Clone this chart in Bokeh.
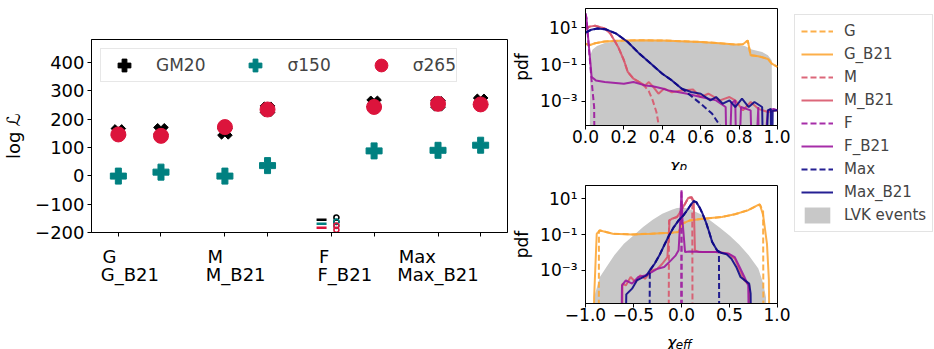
import numpy as np
from bokeh.plotting import figure
from bokeh.layouts import row, column
from bokeh.models import (ColumnDataSource, FixedTicker, CustomJSTickFormatter,
                          Legend, LegendItem, Range1d)
from bokeh.core.properties import value
from bokeh.embed import file_html
from bokeh.resources import INLINE

FONT = "DejaVu Sans"
TEAL = "#008080"
CRIMSON = "#dc143c"
ORANGE = "#fca636"
PINK = "#d8576b"
PURPLE = "#9c179e"
NAVY = "#0d0887"
GRAY = "#c8c8c8"
DASH = "6 3"

# ---------------- left panel: log-likelihoods ----------------
models = ["G", "G_B21", "M", "M_B21", "F", "F_B21", "Max", "Max_B21"]
model_pos = [0, 1, 2.5, 3.5, 5, 6, 7.5, 8.5]
logL_GM20 = [155, 159, 155, 235, -155, 256, 254, 263]
logL_s150 = [-1, 13, -1, 36, -169, 88, 90, 108]
logL_s265 = [146, 141, 172, 234, -183, 243, 254, 252]
y_ticks_left = [-200, -100, 0, 100, 200, 300, 400]
infinite_model = "F"   # drawn as -inf marks

# ---------------- chi_p panel (log10 pdf; -9 = off-scale bottom) ----------------
chip_G_x = [0.0, 0.02, 0.05, 0.1, 0.2, 0.3, 0.4, 0.5, 0.6, 0.7, 0.78, 0.82, 0.845, 0.86, 0.9, 0.95, 0.97, 1.0]
chip_G_lg = [0.13, 0.04, 0.15, 0.25, 0.3, 0.31, 0.3, 0.26, 0.22, 0.15, 0.08, 0.1, 0.3, -0.5, -0.55, -0.7, -0.95, -1.13]
chip_GB_x = [0.0, 0.02, 0.05, 0.1, 0.2, 0.3, 0.4, 0.5, 0.6, 0.7, 0.78, 0.82, 0.845, 0.86, 0.9, 0.95, 0.97, 1.0]
chip_GB_lg = [0.13, 0.04, 0.15, 0.25, 0.3, 0.31, 0.3, 0.26, 0.22, 0.15, 0.08, 0.1, 0.3, -0.5, -0.55, -0.7, -0.95, -1.13]
chip_M_x = [0.0, 0.02, 0.05, 0.1, 0.13, 0.17, 0.2, 0.22, 0.25, 0.28, 0.31, 0.33, 0.35, 0.37, 0.38, 0.385]
chip_M_lg = [0.9, 1.05, 1.1, 0.95, 0.67, -0.05, -0.77, -1.4, -1.77, -1.95, -2.2, -2.45, -2.94, -3.6, -4.2, -9]
chip_MB_x = [0.0, 0.02, 0.05, 0.1, 0.13, 0.17, 0.2, 0.22, 0.25, 0.28, 0.31, 0.33, 0.36, 0.38, 0.41, 0.45,
             0.5, 0.56, 0.6, 0.64, 0.7, 0.75, 0.78, 0.82, 0.86, 0.9, 0.95, 1.0]
chip_MB_lg = [0.9, 1.05, 1.1, 0.95, 0.67, -0.05, -0.77, -1.4, -1.77, -1.95, -2.13, -1.95, -2.3, -2.58, -2.3, -2.5,
              -2.4, -2.35, -2.76, -2.58, -2.94, -2.76, -2.94, -3.48, -3.03, -3.4, -3.57, -3.48]
chip_F_x = [0.0, 0.005, 0.03, 0.045, 0.05]
chip_F_lg = [1.76, 1.5, -1.68, -3.3, -9]
chip_FB_x = [0.0, 0.005, 0.032, 0.054, 0.1, 0.2, 0.25, 0.31, 0.35, 0.4, 0.43, 0.48, 0.53, 0.6, 0.68, 0.73,
             0.74, 0.76, 0.78, 0.79, 0.81, 0.86, 0.875, 0.9, 0.905, 0.95, 0.98, 1.0]
chip_FB_lg = [1.76, 1.5, -1.68, -1.86, -1.95, -2.04, -1.95, -2.13, -2.18, -2.3, -2.4, -2.49, -2.58, -2.76, -2.94, -3.3,
              -9, -3.1, -2.94, -9, -3.3, -3.48, -9, -3.3, -9, -3.48, -3.4, -3.48]
chip_X_x = [0.0, 0.03, 0.062, 0.11, 0.16, 0.22, 0.28, 0.35, 0.4, 0.45, 0.5, 0.52, 0.6, 0.66, 0.7, 0.72]
chip_X_lg = [0.73, 0.88, 0.95, 0.89, 0.67, 0.22, -0.41, -1.04, -1.5, -1.86, -2.3, -2.45, -3.12, -3.67, -4.3, -9]
chip_XB_x = [0.0, 0.03, 0.062, 0.11, 0.16, 0.22, 0.28, 0.35, 0.4, 0.45, 0.5, 0.55, 0.6, 0.65, 0.68, 0.715,
             0.75, 0.78, 0.815, 0.85, 0.88, 0.92, 0.93, 0.95, 0.965, 0.97, 0.975, 1.0]
chip_XB_lg = [0.73, 0.88, 0.95, 0.89, 0.67, 0.22, -0.41, -1.04, -1.5, -1.86, -2.3, -2.49, -2.58, -2.94, -2.76, -3.12,
              -2.94, -3.3, -2.85, -3.3, -3.03, -3.3, -9, -3.48, -3.4, -9, -3.5, -3.48]
chip_LVK_x = [0.02, 0.025, 0.037, 0.06, 0.1, 0.16, 0.28, 0.45, 0.61, 0.7, 0.78, 0.83, 0.866, 0.92, 0.95, 0.97, 0.975]
chip_LVK_lg = [-9, -0.5, -0.19, 0.0, 0.17, 0.26, 0.31, 0.29, 0.24, 0.17, 0.08, 0.0, -0.19, -0.32, -0.5, -0.77, -9]

# ---------------- chi_eff panel ----------------
chie_G_x = [-0.862, -0.86, -0.85, -0.816, -0.716, -0.515, -0.314, -0.114, -0.03, -0.013, 0.003, 0.087, 0.22,
            0.42, 0.555, 0.69, 0.79, 0.816, 0.85, 0.855]
chie_G_lg = [-9, -0.8, -0.77, -0.82, -0.95, -0.99, -0.95, -0.9, -0.86, -0.67, -0.4, -0.21, -0.12,
             -0.02, 0.13, 0.35, 0.63, 0.68, 0.3, -9]
chie_GB_x = [-0.92, -0.91, -0.883, -0.85, -0.816, -0.716, -0.515, -0.314, -0.114, -0.03, -0.013, 0.003, 0.087,
             0.22, 0.42, 0.555, 0.69, 0.79, 0.816, 0.85, 0.89, 0.91, 0.92]
chie_GB_lg = [-9, -4.5, -0.95, -0.77, -0.82, -0.95, -0.99, -0.95, -0.9, -0.86, -0.67, -0.4, -0.21,
              -0.12, -0.02, 0.13, 0.35, 0.63, 0.68, 0.1, -1.5, -3.5, -9]
chie_M_x = [-0.135, -0.13, -0.1, -0.047, -0.013, 0.037, 0.07, 0.104, 0.112, 0.116]
chie_M_lg = [-9, -0.21, -0.12, -0.02, 0.26, 0.72, 1.04, 1.09, 0.95, -9]
chie_MB_x = [-0.62, -0.615, -0.58, -0.53, -0.48, -0.43, -0.38, -0.31, -0.25, -0.2, -0.147, -0.124, -0.1, -0.047,
             -0.013, 0.037, 0.07, 0.104, 0.127, 0.14, 0.187, 0.29, 0.39, 0.49, 0.555, 0.605, 0.655, 0.706, 0.72]
chie_MB_lg = [-9, -3.74, -3.84, -3.37, -3.65, -3.28, -3.47, -3.0, -2.9, -2.63, -2.26, -0.21, -0.12, -0.02,
              0.26, 0.72, 1.04, 1.09, 0.9, -1.88, -1.98, -1.98, -1.98, -2.07, -2.35, -3.0, -3.56, -3.84, -9]
chie_F_x = [-0.006, 0.0, 0.006]
chie_F_lg = [-9, 1.47, -9]
chie_FB_x = [-0.63, -0.62, -0.58, -0.515, -0.45, -0.38, -0.31, -0.25, -0.18, -0.11, -0.06, -0.03, -0.013, 0.0,
             0.01, 0.037, 0.087, 0.22, 0.355, 0.49, 0.555, 0.605, 0.655, 0.695, 0.71]
chie_FB_lg = [-9, -3.84, -3.56, -3.74, -3.37, -3.28, -3.1, -2.91, -2.81, -2.44, -2.16, -1.88, -0.21, 1.47,
              -0.21, -1.98, -1.94, -1.98, -1.98, -2.07, -2.26, -2.81, -3.37, -3.84, -9]
chie_X_x = [-0.335, -0.33, -0.28, -0.23, -0.18, -0.13, -0.08, -0.03, 0.02, 0.07, 0.104, 0.127, 0.154, 0.187,
            0.22, 0.254, 0.288, 0.32, 0.37, 0.39, 0.395]
chie_X_lg = [-9, -3.0, -2.63, -2.16, -1.6, -1.05, -0.58, -0.21, 0.07, 0.44, 0.72, 0.87, 0.81, 0.53,
             0.16, -0.3, -0.86, -1.42, -1.88, -1.95, -9]
chie_XB_x = [-0.59, -0.575, -0.515, -0.465, -0.415, -0.364, -0.33, -0.28, -0.23, -0.18, -0.13, -0.08, -0.03,
             0.02, 0.07, 0.104, 0.127, 0.154, 0.187, 0.22, 0.254, 0.288, 0.32, 0.37, 0.42, 0.47, 0.52, 0.57,
             0.615, 0.66, 0.705, 0.72, 0.73]
chie_XB_lg = [-9, -4.34, -4.02, -3.56, -3.42, -3.28, -3.0, -2.63, -2.16, -1.6, -1.05, -0.58, -0.21,
              0.07, 0.44, 0.72, 0.87, 0.81, 0.53, 0.16, -0.3, -0.86, -1.42, -1.88, -2.03, -2.1, -2.35, -2.81,
              -3.37, -3.56, -3.74, -4.3, -9]
chie_LVK_x = [-0.95, -0.9, -0.85, -0.78, -0.7, -0.6, -0.5, -0.4, -0.3, -0.2, -0.1, -0.047, 0.0, 0.05, 0.1,
              0.2, 0.3, 0.4, 0.5, 0.6, 0.7, 0.8, 0.85, 0.88, 0.9]
chie_LVK_lg = [-9, -4.3, -3.37, -2.8, -2.16, -1.51, -1.05, -0.58, -0.17, 0.16, 0.39, 0.48, 0.5, 0.48, 0.39,
               0.13, -0.21, -0.62, -1.05, -1.55, -2.16, -2.9, -3.7, -4.5, -9]

legend_names = ["G", "G_B21", "M", "M_B21", "F", "F_B21", "Max", "Max_B21"]
legend_colors = [ORANGE, ORANGE, PINK, PINK, PURPLE, PURPLE, NAVY, NAVY]
legend_dashed = [True, False, True, False, True, False, True, False]


def pdf(lg):
    return [10.0 ** v for v in lg]


def style(p, size):
    for ax in p.axis:
        ax.major_label_text_font = FONT
        ax.major_label_text_font_size = size
        ax.major_label_text_color = "black"
        ax.axis_label_text_font = FONT
        ax.axis_label_text_font_style = "normal"
        ax.axis_label_text_color = "black"
        ax.axis_line_color = "black"
        ax.major_tick_line_color = "black"
        ax.major_tick_out = 4
        ax.major_tick_in = 0
        ax.minor_tick_line_color = None
    p.grid.grid_line_color = None
    p.outline_line_color = "black"
    p.outline_line_alpha = 1.0
    p.background_fill_color = "white"
    p.border_fill_color = "white"


def strip(width, height, x_range, left, right):
    s = figure(width=width, height=height, x_range=x_range, y_range=Range1d(0, height),
               x_axis_type=None, y_axis_type=None, output_backend="svg", toolbar_location=None,
               min_border_left=left, min_border_right=right, min_border_top=0, min_border_bottom=0)
    s.outline_line_color = None
    s.grid.grid_line_color = None
    s.background_fill_color = "white"
    s.border_fill_color = "white"
    return s


minus_fmt = CustomJSTickFormatter(code="return String(tick).replace('-', '\\u2212');")

# ======== left figure ========
pL = figure(width=509, height=244, x_range=Range1d(-0.63, 9.13), y_range=Range1d(-200, 481),
            output_backend="svg", toolbar_location=None,
            min_border_left=87, min_border_right=2, min_border_top=39, min_border_bottom=12)
style(pL, "18px")
pL.yaxis.ticker = FixedTicker(ticks=y_ticks_left, minor_ticks=[])
pL.yaxis.formatter = minus_fmt
pL.yaxis.major_label_standoff = 3
pL.yaxis.axis_label = "log \u2112"
pL.yaxis.axis_label_text_font_size = "18px"
pL.yaxis.axis_label_standoff = 8
# category ticks on the axis; their names are written in the strip below
pL.xaxis.ticker = FixedTicker(ticks=model_pos, minor_ticks=[])
pL.xaxis.formatter = CustomJSTickFormatter(code="return '';")
pL.xaxis.major_label_text_font_size = "0px"
pL.xaxis.major_label_standoff = 0

keep = [i for i, m in enumerate(models) if m != infinite_model]
src = ColumnDataSource(dict(
    x=[model_pos[i] for i in keep],
    gm=[logL_GM20[i] for i in keep],
    s150=[logL_s150[i] for i in keep],
    s265=[logL_s265[i] for i in keep],
))
r_gm = pL.scatter("x", "gm", source=src, marker="plus", angle=45, angle_units="deg", size=15,
                  fill_color="black", line_color="black")
r_150 = pL.scatter("x", "s150", source=src, marker="plus", size=16, fill_color=TEAL, line_color=TEAL)
r_265 = pL.scatter("x", "s265", source=src, marker="circle", size=15, fill_color=CRIMSON, line_color=CRIMSON)

# off-scale (-inf) values of F: a short dash and a small double loop per series
fi = models.index(infinite_model)
unit_px = 420 / (9.13 + 0.63)        # pixels per x unit
ypx = 193 / (481 + 200)              # pixels per y unit
inf_vals = [logL_GM20[fi], logL_s150[fi], logL_s265[fi]]
inf_cols = ["black", TEAL, CRIMSON]
pL.scatter(x=[model_pos[fi] - 10 / unit_px] * 3, y=inf_vals, marker="dash", size=10,
           line_color=inf_cols, line_width=2.5)
loop_x = [model_pos[fi] + 5 / unit_px] * 6
loop_y = [v + d / ypx for v in inf_vals for d in (2.2, -2.2)]
loop_c = [c for c in inf_cols for _ in (0, 1)]
pL.scatter(x=loop_x, y=loop_y, marker="circle", size=5, fill_color=None,
           line_color=loop_c, line_width=1.6)

legL = Legend(items=[LegendItem(label="GM20", renderers=[r_gm]),
                     LegendItem(label="\u03c3150", renderers=[r_150]),
                     LegendItem(label="\u03c3265", renderers=[r_265])],
              orientation="horizontal", location="top_left", margin=9, padding=0,
              glyph_width=46, glyph_height=32, label_standoff=9, spacing=27,
              label_text_font=FONT, label_text_font_size="17px",
              border_line_color="#d0d0d0", background_fill_alpha=0.8)
pL.add_layout(legL)

# strip under the left panel: category names, in two staggered rows
sL = strip(509, 105, pL.x_range, 87, 2)
first = [m for m in models if not m.endswith("_B21")]
second = [m for m in models if m.endswith("_B21")]
sL.text(x=[model_pos[models.index(m)] for m in first], y=[104] * len(first), text=first,
        x_offset=-2, text_align="right", text_baseline="top",
        text_font=value(FONT), text_font_size="18px", text_color="black")
sL.text(x=[model_pos[models.index(m)] for m in second], y=[86] * len(second), text=second,
        x_offset=-2, text_align="right", text_baseline="top",
        text_font=value(FONT), text_font_size="18px", text_color="black")

# ======== right panels ========
log_fmt = CustomJSTickFormatter(code="""
const e = Math.round(Math.log10(tick));
const sup = {'-': '\\u207b', '0': '\\u2070', '1': '\\u00b9', '2': '\\u00b2', '3': '\\u00b3',
             '4': '\\u2074', '5': '\\u2075', '6': '\\u2076', '7': '\\u2077', '8': '\\u2078', '9': '\\u2079'};
return '10' + String(e).split('').map(c => sup[c]).join('');
""")


def panel(height, top, frame_h, xr, yr, xticks, fmt_code):
    p = figure(width=281, height=height, x_range=Range1d(*xr), y_range=Range1d(*yr), y_axis_type="log",
               output_backend="svg", toolbar_location=None,
               min_border_left=69, min_border_right=13, min_border_top=top,
               min_border_bottom=height - top - frame_h)
    style(p, "17px")
    p.yaxis.ticker = FixedTicker(ticks=[1e-3, 1e-1, 1e1], minor_ticks=[])
    p.yaxis.formatter = log_fmt
    p.yaxis.major_label_standoff = 4
    p.yaxis.axis_label = "pdf"
    p.yaxis.axis_label_text_font_size = "17px"
    p.yaxis.axis_label_standoff = 5
    p.xaxis.ticker = FixedTicker(ticks=xticks, minor_ticks=[])
    p.xaxis.formatter = CustomJSTickFormatter(code=fmt_code)
    p.xaxis.major_label_standoff = 0
    return p


pT = panel(149, 8, 117, (0, 1), (10 ** -4.3, 10 ** 2.03), [0, 0.2, 0.4, 0.6, 0.8, 1.0],
           "return tick.toFixed(1);")
pB = panel(157, 15, 118, (-1, 1), (10 ** -4.85, 10 ** 1.74), [-1, -0.5, 0, 0.5, 1.0],
           "return tick.toFixed(1).replace('-', '\\u2212');")


def draw(p, lvk, series):
    p.varea(x=lvk[0], y1=1e-9, y2=pdf(lvk[1]), fill_color=GRAY, fill_alpha=1.0)
    for (xs, lg), color, dashed in series:
        p.line(xs, pdf(lg), line_color=color, line_width=2, line_alpha=0.9,
               line_dash=(DASH if dashed else "solid"))


draw(pT, (chip_LVK_x, chip_LVK_lg),
     [((chip_G_x, chip_G_lg), ORANGE, True), ((chip_GB_x, chip_GB_lg), ORANGE, False),
      ((chip_M_x, chip_M_lg), PINK, True), ((chip_MB_x, chip_MB_lg), PINK, False),
      ((chip_F_x, chip_F_lg), PURPLE, True), ((chip_FB_x, chip_FB_lg), PURPLE, False),
      ((chip_X_x, chip_X_lg), NAVY, True), ((chip_XB_x, chip_XB_lg), NAVY, False)])
draw(pB, (chie_LVK_x, chie_LVK_lg),
     [((chie_G_x, chie_G_lg), ORANGE, True), ((chie_GB_x, chie_GB_lg), ORANGE, False),
      ((chie_M_x, chie_M_lg), PINK, True), ((chie_MB_x, chie_MB_lg), PINK, False),
      ((chie_F_x, chie_F_lg), PURPLE, True), ((chie_FB_x, chie_FB_lg), PURPLE, False),
      ((chie_X_x, chie_X_lg), NAVY, True), ((chie_XB_x, chie_XB_lg), NAVY, False)])


def chi_strip(p, height, sub, x_chi, y_chi, x_sub, y_sub):
    s = strip(281, height, p.x_range, 69, 13)
    s.text(x=[x_chi], y=[y_chi], text=["\u03c7"], text_align="left", text_baseline="alphabetic",
           text_font=value(FONT), text_font_style="italic", text_font_size="16px", text_color="black")
    s.text(x=[x_sub], y=[y_sub], text=[sub], text_align="left", text_baseline="alphabetic",
           text_font=value(FONT), text_font_style="italic", text_font_size="12px", text_color="black")
    return s


sT = chi_strip(pT, 21, "p", 0.44, 5, 0.49, 4)
sB = chi_strip(pB, 22, "eff", -0.15, 7, -0.06, 5)

# ======== legend figure ========
pG = figure(width=144, height=349, x_range=Range1d(0, 1), y_range=Range1d(0, 1),
            x_axis_type=None, y_axis_type=None, output_backend="svg", toolbar_location=None,
            min_border_left=4, min_border_top=14, min_border_right=0, min_border_bottom=0)
pG.outline_line_color = None
pG.grid.grid_line_color = None
items = []
for name, color, dashed in zip(legend_names, legend_colors, legend_dashed):
    r = pG.line(x=[-3, -2], y=[-3, -2], line_color=color, line_width=2, line_alpha=0.9,
                line_dash=(DASH if dashed else "solid"))
    items.append(LegendItem(label=name, renderers=[r]))
r_lvk = pG.quad(left=[-3], right=[-2], bottom=[-3], top=[-2], fill_color=GRAY, line_color=None)
items.append(LegendItem(label="LVK events", renderers=[r_lvk]))
legR = Legend(items=items, location="top_left", margin=0, padding=6, glyph_width=32, glyph_height=20,
              label_standoff=11, spacing=3, label_text_font=FONT, label_text_font_size="15px",
              border_line_color="#c8c8c8", background_fill_alpha=0.8)
pG.add_layout(legR)

layout = row(column(pL, sL, spacing=0), column(pT, sT, pB, sB, spacing=0), column(pG, spacing=0),
             spacing=0)
open("out.html", "w").write(file_html(layout, INLINE))
